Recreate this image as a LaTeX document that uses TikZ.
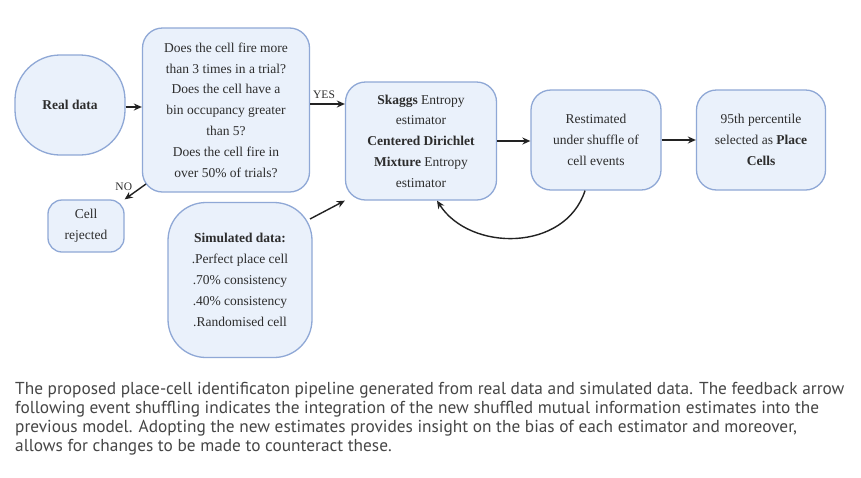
\documentclass[tikz,border=0pt]{standalone}
\usepackage{fontspec}
\setmainfont{Liberation Serif}
\newfontfamily\capfont{PT Sans}
\usetikzlibrary{arrows.meta,calc}
\definecolor{fillc}{RGB}{234,241,251}
\definecolor{bordc}{RGB}{143,168,214}
\definecolor{txtc}{RGB}{45,45,45}
\definecolor{arrc}{RGB}{34,34,34}
\definecolor{capc}{RGB}{70,70,70}
\begin{document}
\begin{tikzpicture}[x=1pt,y=-1pt,
  box/.style={draw=bordc,fill=fillc,line width=1.3pt,rounded corners=20pt,align=center,
    text=txtc,inner sep=0pt,font=\fontsize{13.5}{20.8}\selectfont},
  arr/.style={draw=arrc,line width=1.4pt,-{Stealth[length=8pt,width=7pt]}},
  lbl/.style={text=txtc,font=\fontsize{11.5}{12}\selectfont,inner sep=0pt},
  capl/.style={anchor=base west,text=capc,inner sep=0pt,font=\capfont\fontsize{17.3}{19}\selectfont}]
\useasboundingbox (0,0) rectangle (861,477);
\fill[white] (0,0) rectangle (861,477);
\node[box,rounded corners=45pt,minimum width=110pt,minimum height=100pt] (real) at (70,105) {\textbf{Real data}};
\node[box,minimum width=167pt,minimum height=164pt] (q) at (226,110)
  {Does the cell fire more\\than 3 times in a trial?\\Does the cell have a\\bin occupancy greater\\than 5?\\Does the cell fire in\\over 50\% of trials?};
\node[box,minimum width=151pt,minimum height=118pt] (sk) at (421,141)
  {\textbf{Skaggs} Entropy\\estimator\\\textbf{Centered Dirichlet}\\\textbf{Mixture} Entropy\\estimator};
\node[box,minimum width=130pt,minimum height=100pt] (rest) at (596,140)
  {Restimated\\under shuffle of\\cell events};
\node[box,minimum width=129pt,minimum height=100pt] (pc) at (761,140)
  {95th percentile\\selected as \textbf{Place}\\\textbf{Cells}};
\node[box,rounded corners=14pt,minimum width=76pt,minimum height=52pt] (rej) at (86,226)
  {Cell\\rejected};
\node[box,rounded corners=38pt,minimum width=144pt,minimum height=155pt] (sim) at (240,280)
  {\textbf{Simulated data:}\\.Perfect place cell\\.70\% consistency\\.40\% consistency\\.Randomised cell};
\draw[arr] (real.east |- 0,107) -- (q.west |- 0,107);
\draw[arr] (q.east |- 0,104) -- (sk.west |- 0,104) node[lbl,pos=0.4,above=5pt] (yes) {YES};
\coordinate (qno) at (146,184);
\draw[arr] (qno) -- (rej.north east) node[lbl,pos=0.15,left=10pt] (no) {NO};
\coordinate (simo) at (310,219);
\draw[arr] (simo) -- (sk.south west);
\draw[arr] (sk.east |- 0,141) -- (rest.west |- 0,141);
\draw[arr] (rest.east |- 0,140) -- (pc.west |- 0,140);
\draw[arr] ($(rest.south)+(-11,0)$) .. controls (565,252) and (470,252) .. ($(sk.south)+(16,0)$);
\node[capl] (c1) at (15,394) {The proposed place-cell identificaton pipeline generated from real data and simulated data. The feedback arrow};
\node[capl] (c2) at (15,413) {following event shuffling indicates the integration of the new shuffled mutual information estimates into the};
\node[capl] (c3) at (15,432) {previous model. Adopting the new estimates provides insight on the bias of each estimator and moreover,};
\node[capl] (c4) at (15,451) {allows for changes to be made to counteract these.};
\end{tikzpicture}
\end{document}
